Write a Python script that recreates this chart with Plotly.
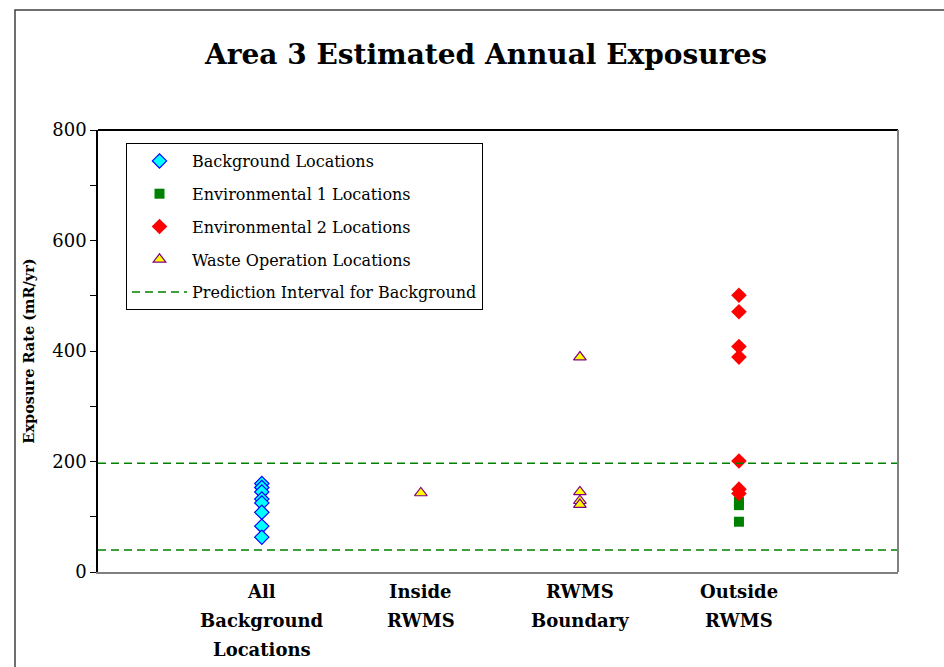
import plotly.graph_objects as go

categories = ["All<br>Background<br>Locations", "Inside<br>RWMS", "RWMS<br>Boundary", "Outside<br>RWMS"]
cat_pos = [1, 2, 3, 4]

background_vals = [160, 153, 145, 132, 125, 108, 83, 63]
env1_vals = [127, 121, 91]
env2_vals = [501, 471, 408, 389, 201, 150, 142]
waste_inside_vals = [143]
waste_boundary_vals = [389, 145, 129, 122]
pred_interval = [197, 40]
x_range = [-0.03, 5.0]

FONT = "DejaVu Serif, serif"

fig = go.Figure()

fig.add_trace(go.Scatter(
    x=[cat_pos[0]] * len(background_vals), y=background_vals, mode="markers",
    name="Background Locations", legendgroup="a",
    marker=dict(symbol="diamond", size=11, color="#00FFFF", line=dict(color="#0000FF", width=1.2)),
))
fig.add_trace(go.Scatter(
    x=[cat_pos[3]] * len(env1_vals), y=env1_vals, mode="markers",
    name="Environmental 1 Locations", legendgroup="b",
    marker=dict(symbol="square", size=10, color="#008000"),
))
fig.add_trace(go.Scatter(
    x=[cat_pos[3]] * len(env2_vals), y=env2_vals, mode="markers",
    name="Environmental 2 Locations", legendgroup="c",
    marker=dict(symbol="diamond", size=12, color="#FF0000"),
))
fig.add_trace(go.Scatter(
    x=[cat_pos[1]] * len(waste_inside_vals) + [cat_pos[2]] * len(waste_boundary_vals),
    y=waste_inside_vals + waste_boundary_vals, mode="markers",
    name="Waste Operation Locations", legendgroup="d",
    marker=dict(symbol="triangle-up", size=11, color="#FFFF00", line=dict(color="#800080", width=1.2)),
))
fig.add_trace(go.Scatter(
    x=[x_range[0], x_range[1], None, x_range[0], x_range[1]],
    y=[pred_interval[0], pred_interval[0], None, pred_interval[1], pred_interval[1]],
    mode="lines", name="Prediction Interval for Background", legendgroup="e",
    line=dict(color="#008000", width=1.5, dash="8px,5px"),
))

annotations = [dict(
    text="<b>Area 3 Estimated Annual Exposures</b>", xref="paper", yref="paper",
    x=(485 - 98) / 800, y=1 + (130 - 55) / 442, xanchor="center", yanchor="middle",
    showarrow=False, font=dict(family=FONT, size=28, color="black"),
)]
for pos, label in zip(cat_pos, categories):
    for i, line in enumerate(label.split("<br>")):
        annotations.append(dict(
            text="<b>" + line + "</b>", x=pos, xref="x", y=0, yref="paper",
            xanchor="center", yanchor="middle", yshift=-(19 + 29 * i), showarrow=False,
            font=dict(family=FONT, size=18, color="black"),
        ))

fig.update_layout(
    width=944, height=667,
    paper_bgcolor="white", plot_bgcolor="white",
    margin=dict(l=98, r=46, t=130, b=95),
    font=dict(family=FONT, color="black"),
    showlegend=True,
    legend=dict(
        x=(126 - 98) / 800, y=1 - (143 - 130) / 442, xanchor="left", yanchor="top",
        bordercolor="black", borderwidth=1, bgcolor="white",
        font=dict(family=FONT, size=16), tracegroupgap=9,
        traceorder="grouped", itemwidth=55,
    ),
    annotations=annotations,
    shapes=[
        dict(type="rect", xref="paper", yref="paper", x0=(15 - 98) / 800, x1=1.2,
             y0=-0.5, y1=1 + (130 - 10) / 442, line=dict(color="#404040", width=1.5)),
        dict(type="line", xref="paper", yref="paper", x0=0, x1=1, y0=1, y1=1,
             line=dict(color="black", width=2)),
        dict(type="line", xref="paper", yref="paper", x0=1, x1=1, y0=0, y1=1,
             line=dict(color="#808080", width=2)),
    ],
)

fig.update_xaxes(
    range=x_range, tickvals=cat_pos, ticktext=[""] * len(cat_pos),
    showline=True, linecolor="#808080", linewidth=2, ticks="", showgrid=False, zeroline=False,
)
fig.update_yaxes(
    range=[0, 800], tickvals=[0, 200, 400, 600, 800], showgrid=False, zeroline=False,
    showline=True, linecolor="black", linewidth=1.5, ticks="outside", ticklen=6, tickcolor="black",
    minor=dict(tickvals=[100, 300, 500, 700], ticks="outside", ticklen=6, tickcolor="black"),
    tickfont=dict(family=FONT, size=18),
    title=dict(text="<b>Exposure Rate (mR/yr)</b>", font=dict(family=FONT, size=14.5), standoff=14),
)

fig.write_html("out.html", config={"displayModeBar": False})

with open("out.html", "r", encoding="utf-8") as f:
    html = f.read()
html = html.replace("<head>", "<head><style>html,body{margin:0;padding:0;overflow:hidden}</style>", 1)
with open("out.html", "w", encoding="utf-8") as f:
    f.write(html)
